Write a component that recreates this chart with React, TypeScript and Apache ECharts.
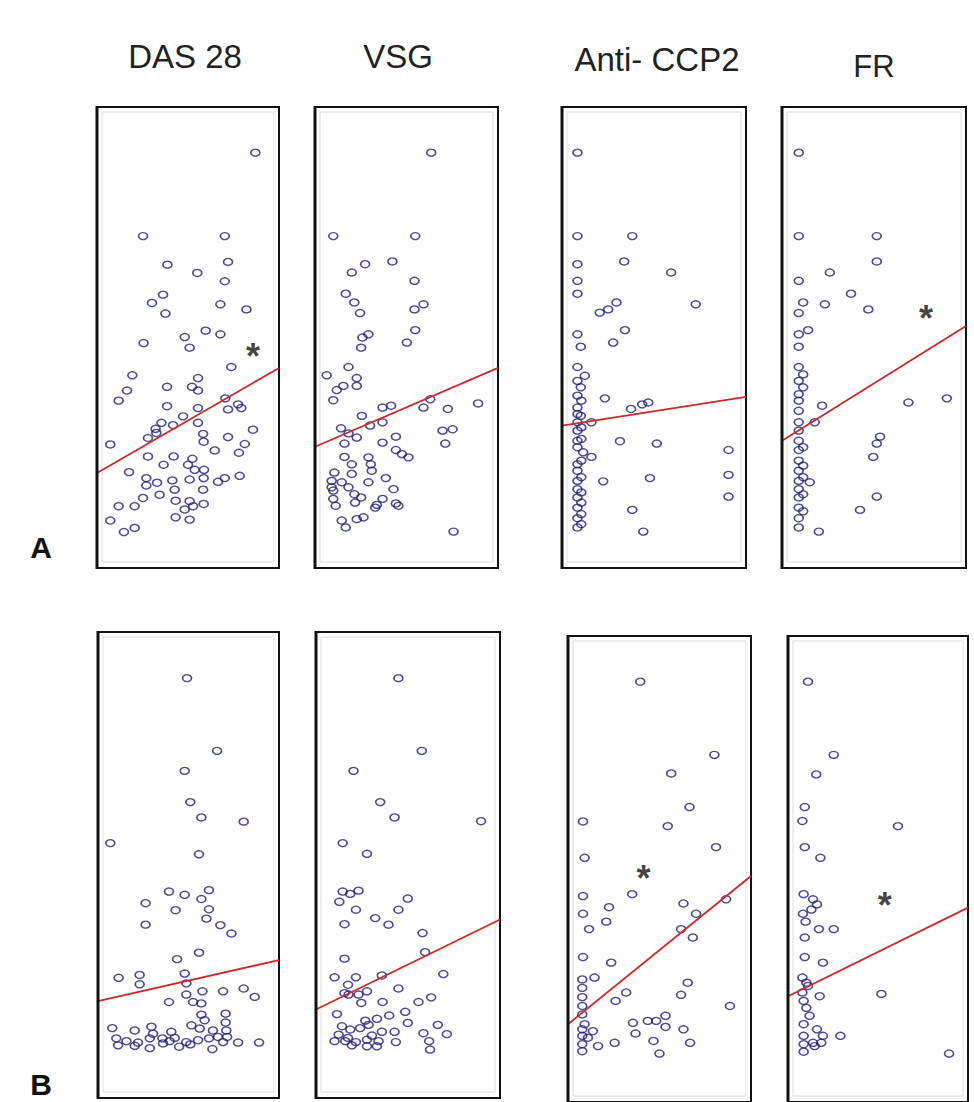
import React, { useEffect, useRef } from "react";
import * as echarts from "echarts";

const titles = ["DAS 28", "VSG", "Anti- CCP2", "FR"];
const rowLabels = ["A", "B"];

// Row A (unitless, 0-100 scale)
const dasA = [
  [87.0, 90.1], [25.3, 72.0], [70.2, 72.0], [38.7, 65.8], [55.1, 64.0], [72.0, 66.4], [70.2, 62.2], [36.3, 59.3],
  [30.2, 57.5], [67.8, 57.2], [82.1, 56.1], [37.6, 55.2], [59.7, 51.5], [48.2, 50.1], [67.8, 50.7], [25.6, 48.8],
  [50.9, 47.8], [73.8, 43.6], [19.4, 41.8], [55.5, 41.2], [16.5, 38.5], [38.5, 39.3], [52.2, 39.3], [55.5, 38.5],
  [11.9, 36.3], [38.5, 35.1], [70.5, 36.8], [55.5, 34.7], [72.0, 34.4], [77.5, 35.5], [79.3, 34.7], [47.3, 32.9],
  [35.4, 31.5], [32.2, 30.2], [41.8, 31.0], [55.5, 31.5], [32.6, 29.3], [28.0, 28.2], [58.3, 29.1], [58.6, 27.4],
  [85.7, 30.0], [7.3, 26.8], [72.0, 28.4], [81.2, 26.9], [78.0, 25.0], [64.7, 25.5], [28.0, 24.2], [42.1, 24.2],
  [36.6, 22.4], [52.4, 23.7], [50.0, 22.4], [53.7, 21.3], [58.8, 21.3], [17.6, 20.8], [27.1, 19.5], [58.6, 19.5],
  [50.9, 19.2], [41.4, 19.0], [33.0, 18.5], [27.1, 17.9], [70.2, 19.5], [78.4, 20.0], [66.5, 18.7], [58.3, 17.0],
  [42.7, 17.0], [34.4, 15.9], [25.3, 15.2], [43.2, 14.6], [50.9, 14.5], [58.6, 13.9], [11.9, 13.4], [20.7, 13.4],
  [52.8, 13.4], [48.2, 12.7], [43.2, 11.0], [50.9, 10.5], [7.3, 10.3], [20.7, 8.7], [14.8, 7.8],
];
const vsgA = [
  [63.5, 90.1], [10.0, 72.0], [54.8, 72.0], [27.4, 65.9], [42.3, 66.5], [20.1, 64.1], [54.4, 62.3], [16.8, 59.5],
  [21.5, 57.6], [24.6, 55.3], [54.4, 56.1], [59.3, 57.2], [54.8, 51.6], [25.9, 50.0], [29.2, 50.7], [25.2, 47.8],
  [50.2, 48.9], [18.3, 43.6], [6.4, 41.8], [22.8, 41.2], [22.8, 39.5], [15.5, 39.5], [11.9, 38.6], [10.0, 36.4],
  [36.9, 34.8], [41.6, 35.2], [59.3, 34.8], [63.0, 36.6], [72.6, 34.5], [89.1, 35.7], [25.6, 33.0], [14.2, 30.3],
  [30.1, 30.9], [36.9, 31.6], [18.3, 29.2], [22.8, 28.3], [69.7, 29.8], [75.2, 30.1], [71.2, 27.0], [16.1, 27.0],
  [36.9, 27.2], [44.2, 28.5], [16.1, 24.1], [29.2, 24.0], [44.2, 25.6], [47.5, 24.7], [51.1, 24.0], [20.1, 22.5],
  [30.5, 22.5], [10.6, 20.7], [20.1, 20.4], [31.0, 21.1], [38.7, 19.5], [9.1, 18.9], [14.6, 18.6], [29.2, 18.6],
  [10.0, 16.8], [42.9, 17.1], [21.5, 16.0], [25.2, 15.3], [36.9, 15.0], [11.3, 13.5], [21.9, 14.2], [32.9, 13.1],
  [44.2, 14.0], [26.5, 11.0], [22.8, 10.6], [14.6, 10.3], [16.8, 8.8], [75.7, 7.9], [33.8, 13.7], [45.6, 13.5],
  [10.0, 15.0], [9.1, 17.5], [18.3, 17.5],
];
const ccpA = [
  [8.4, 90.1], [8.4, 72.0], [38.2, 72.0], [33.8, 66.5], [59.3, 64.1], [8.4, 65.9], [8.4, 62.3], [8.4, 59.5],
  [72.7, 57.2], [20.5, 55.4], [25.1, 56.1], [29.6, 57.6], [34.2, 51.6], [27.8, 48.9], [8.4, 50.7], [10.2, 48.0],
  [8.4, 43.6], [12.4, 41.7], [8.4, 40.6], [10.2, 39.2], [23.3, 36.8], [8.4, 37.4], [37.5, 34.5], [43.6, 35.5],
  [46.9, 35.9], [8.4, 34.8], [10.2, 33.0], [8.4, 31.6], [16.0, 31.6], [8.4, 29.8], [8.4, 27.6], [31.5, 27.5],
  [51.5, 27.0], [90.5, 25.6], [11.5, 25.1], [16.0, 24.1], [8.4, 22.5], [8.4, 21.1], [8.4, 18.9], [22.4, 18.8],
  [47.8, 19.5], [90.5, 20.2], [8.4, 17.1], [8.4, 15.3], [90.5, 15.5], [8.4, 13.1], [38.2, 12.6], [8.4, 10.8],
  [8.4, 8.8], [44.2, 7.9], [10.5, 23.3], [10.5, 19.7], [10.5, 16.4], [10.5, 14.2], [10.5, 11.7], [10.5, 28.0],
  [10.5, 30.5], [10.5, 36.3], [8.4, 33.4], [8.4, 26.2], [10.5, 9.5],
];
const frA = [
  [9.1, 90.1], [9.1, 72.0], [51.5, 72.0], [51.5, 66.5], [26.0, 64.1], [9.1, 62.3], [37.5, 59.5], [11.5, 57.6],
  [23.3, 57.2], [46.9, 56.1], [9.1, 55.3], [14.2, 51.6], [9.1, 50.7], [9.1, 48.0], [9.1, 43.6], [11.5, 42.0],
  [9.1, 40.6], [11.5, 39.2], [9.1, 37.7], [21.8, 35.2], [9.1, 36.3], [68.7, 35.9], [89.6, 36.8], [9.1, 34.1],
  [9.1, 31.6], [17.8, 31.6], [9.1, 29.8], [53.3, 28.5], [51.5, 27.0], [9.1, 27.6], [9.1, 25.6], [49.6, 24.1],
  [9.1, 23.3], [11.5, 22.2], [9.1, 21.1], [15.1, 18.6], [9.1, 18.9], [9.1, 17.1], [51.5, 15.5], [9.1, 15.3],
  [42.4, 12.6], [9.1, 13.1], [9.1, 10.8], [9.1, 8.8], [20.0, 7.9], [11.5, 19.7], [11.5, 12.3], [11.5, 16.0],
  [11.5, 26.2],
];

// Row B
const dasB = [
  [49.2, 90.1], [65.8, 74.5], [47.9, 70.2], [51.0, 63.5], [57.1, 60.2], [80.5, 59.3], [6.8, 54.7], [55.8, 52.3],
  [39.2, 44.3], [47.9, 43.6], [61.3, 44.6], [57.1, 42.7], [26.3, 41.8], [42.9, 40.3], [61.3, 40.5], [59.9, 38.5],
  [26.3, 37.2], [67.6, 37.1], [73.7, 35.3], [55.8, 31.2], [43.7, 29.8], [11.4, 25.8], [23.0, 26.4], [23.0, 24.4],
  [47.9, 26.7], [48.8, 24.6], [80.5, 23.5], [86.6, 21.7], [69.1, 22.9], [57.7, 22.9], [48.8, 22.2], [52.5, 20.6],
  [39.2, 20.6], [57.1, 20.3], [57.1, 17.9], [70.5, 18.1], [58.9, 16.7], [51.6, 15.6], [70.5, 16.2], [7.9, 15.0],
  [20.3, 14.5], [29.5, 15.3], [40.5, 14.2], [63.5, 14.5], [70.9, 14.5], [10.1, 12.8], [15.7, 12.2], [22.1, 11.9],
  [28.6, 12.8], [35.6, 12.8], [42.4, 12.9], [48.8, 12.0], [55.3, 12.4], [61.3, 12.8], [66.3, 13.1], [71.3, 13.1],
  [77.4, 11.9], [89.0, 11.9], [11.1, 11.3], [20.3, 11.2], [28.6, 10.7], [44.8, 11.0], [51.0, 11.5], [63.2, 10.5],
  [35.9, 11.7], [69.1, 12.0], [56.2, 14.9], [30.4, 13.8], [39.6, 12.2],
];
const vsgB = [
  [44.8, 90.1], [57.5, 74.5], [20.4, 70.2], [34.9, 63.5], [42.7, 60.2], [89.7, 59.4], [14.5, 54.7], [27.7, 52.4],
  [14.5, 44.3], [18.6, 43.8], [23.1, 44.5], [12.7, 42.1], [21.7, 40.4], [49.9, 42.8], [44.8, 40.4], [32.2, 38.6],
  [39.4, 37.2], [15.5, 37.3], [57.9, 35.4], [15.5, 29.9], [59.3, 31.3], [10.1, 25.9], [21.7, 25.9], [35.8, 26.3],
  [69.2, 26.6], [17.4, 24.3], [27.7, 22.9], [44.8, 23.5], [15.5, 22.5], [24.6, 20.4], [36.2, 20.6], [55.7, 20.6],
  [62.6, 21.6], [11.4, 18.0], [48.5, 18.5], [26.8, 16.6], [33.1, 17.0], [39.8, 17.7], [49.9, 16.1], [66.2, 15.7],
  [71.1, 13.7], [14.1, 15.4], [18.6, 14.7], [24.0, 15.0], [28.6, 15.7], [35.8, 14.2], [42.7, 14.2], [58.4, 13.9],
  [10.1, 12.2], [15.9, 12.2], [21.7, 12.0], [27.7, 12.5], [34.0, 12.2], [43.4, 12.0], [61.5, 12.2], [62.0, 10.4],
  [12.3, 13.6], [19.5, 11.3], [27.7, 11.1], [33.1, 11.1], [17.4, 12.9], [30.4, 13.4], [17.7, 22.2], [23.1, 22.2],
];
const ccpB = [
  [39.5, 90.2], [80.0, 74.5], [56.4, 70.5], [66.4, 63.3], [54.5, 59.2], [8.2, 60.2], [80.9, 54.7], [9.1, 52.4],
  [35.1, 44.6], [8.2, 44.2], [22.4, 41.8], [8.2, 40.4], [20.9, 38.7], [11.5, 37.1], [63.1, 42.6], [70.0, 40.4],
  [61.8, 37.1], [68.2, 35.3], [86.4, 43.5], [8.2, 31.1], [23.6, 29.9], [7.8, 26.3], [14.5, 26.7], [7.8, 24.5],
  [7.8, 22.5], [7.8, 20.6], [31.8, 23.5], [26.0, 21.7], [65.4, 25.6], [61.8, 23.0], [88.5, 20.6], [9.1, 16.7],
  [13.6, 15.2], [35.5, 17.0], [43.6, 17.4], [48.2, 17.4], [53.3, 18.5], [53.3, 16.1], [36.9, 14.7], [63.1, 15.6],
  [7.8, 14.2], [7.8, 12.4], [7.8, 10.9], [16.4, 12.0], [25.5, 12.7], [46.7, 13.1], [66.7, 12.7], [50.0, 10.4],
  [7.8, 15.6], [10.9, 13.8], [7.8, 18.8],
];
const frB = [
  [11.1, 90.2], [25.4, 74.5], [15.7, 70.3], [9.3, 63.3], [8.0, 60.3], [61.1, 59.2], [9.3, 54.7], [18.0, 52.4],
  [8.7, 44.6], [13.9, 43.5], [16.1, 42.4], [8.3, 40.4], [13.0, 41.3], [9.8, 38.7], [17.2, 37.1], [25.4, 37.1],
  [9.3, 35.3], [9.3, 31.1], [19.4, 29.9], [8.0, 26.7], [10.2, 25.6], [17.6, 22.7], [51.9, 23.2], [8.7, 21.7],
  [10.2, 20.2], [12.0, 18.5], [8.7, 16.7], [16.1, 15.6], [19.4, 14.2], [29.1, 14.2], [8.7, 14.2], [8.7, 12.4],
  [8.7, 10.8], [14.8, 12.0], [89.5, 10.4], [8.0, 23.5], [11.1, 24.9], [13.9, 12.7], [18.5, 12.7],
];

// Regression lines (endpoints at x = 0 and x = 100)
const lineDasA = [[0, 20.6], [100, 43.4]];
const lineVsgA = [[0, 26.3], [100, 43.4]];
const lineCcpA = [[0, 30.9], [100, 37.1]];
const lineFrA = [[0, 27.6], [100, 52.5]];
const lineDasB = [[0, 20.8], [100, 29.6]];
const lineVsgB = [[0, 19.0], [100, 38.3]];
const lineCcpB = [[0, 16.7], [100, 48.5]];
const lineFrB = [[0, 22.7], [100, 41.7]];

// Significance markers
const starDasA = [[85.7, 47.2]];
const starFrA = [[78.2, 55.4]];
const starCcpB = [[41.3, 49.2]];
const starFrB = [[53.7, 43.5]];

const panels = [
  { grid: { left: 97, top: 107, width: 182, height: 461 }, points: dasA, line: lineDasA, star: starDasA },
  { grid: { left: 315, top: 107, width: 183, height: 461 }, points: vsgA, line: lineVsgA, star: [] },
  { grid: { left: 562, top: 107, width: 184, height: 461 }, points: ccpA, line: lineCcpA, star: [] },
  { grid: { left: 782, top: 107, width: 184, height: 461 }, points: frA, line: lineFrA, star: starFrA },
  { grid: { left: 98, top: 632, width: 181, height: 466 }, points: dasB, line: lineDasB, star: [] },
  { grid: { left: 316, top: 632, width: 184, height: 466 }, points: vsgB, line: lineVsgB, star: [] },
  { grid: { left: 568, top: 636, width: 183, height: 466 }, points: ccpB, line: lineCcpB, star: starCcpB },
  { grid: { left: 788, top: 636, width: 180, height: 466 }, points: frB, line: lineFrB, star: starFrB },
];

const titlePos = [
  { x: 185, y: 56, size: 33 },
  { x: 398, y: 56, size: 33 },
  { x: 657, y: 59, size: 33 },
  { x: 874, y: 66, size: 31 },
];
const labelPos = [
  { x: 41, y: 547 },
  { x: 41, y: 1084 },
];

export default function App() {
  const ref = useRef<HTMLDivElement>(null);
  useEffect(() => {
    if (!ref.current) return;
    const chart = echarts.init(ref.current, null, { renderer: "svg" });
    const grids: any[] = [];
    const xAxes: any[] = [];
    const yAxes: any[] = [];
    const series: any[] = [];
    const graphics: any[] = [];
    panels.forEach((p, i) => {
      grids.push({
        ...p.grid,
        show: true,
        borderColor: "#111",
        borderWidth: 2,
        backgroundColor: "#fff",
        containLabel: false,
      });
      const hidden = {
        show: false,
        axisLine: { show: false },
        axisTick: { show: false },
        axisLabel: { show: false },
        splitLine: { show: false },
      };
      xAxes.push({ type: "value", gridIndex: i, min: 0, max: 100, ...hidden });
      yAxes.push({ type: "value", gridIndex: i, min: 0, max: 100, ...hidden });
      series.push({
        type: "scatter",
        xAxisIndex: i,
        yAxisIndex: i,
        data: p.points,
        symbol: "circle",
        symbolSize: [9, 7],
        itemStyle: { color: "rgba(255,255,255,0)", borderColor: "#1e1e7c", borderWidth: 1.5 },
        z: 3,
      });
      series.push({
        type: "line",
        xAxisIndex: i,
        yAxisIndex: i,
        data: p.line,
        symbol: "none",
        lineStyle: { color: "#d02828", width: 1.8 },
        z: 4,
      });
      if (p.star.length) {
        series.push({
          type: "scatter",
          xAxisIndex: i,
          yAxisIndex: i,
          data: p.star,
          symbol: "circle",
          symbolSize: 1,
          itemStyle: { color: "rgba(0,0,0,0)" },
          label: {
            show: true,
            position: "inside",
            formatter: "*",
            fontSize: 36,
            fontWeight: "bold",
            fontFamily: "Liberation Sans, Arial, sans-serif",
            color: "#111",
            offset: [0, 6],
          },
          z: 5,
        });
      }
      const g = p.grid;
      graphics.push({
        type: "rect",
        shape: { x: g.left + 5, y: g.top + 5, width: g.width - 10, height: g.height - 11 },
        style: { fill: "none", stroke: "#dcdcdc", lineWidth: 1 },
        z: 1,
      });
      graphics.push({
        type: "line",
        shape: { x1: g.left, y1: g.top - 1, x2: g.left, y2: g.top + g.height + 1 },
        style: { stroke: "#111", lineWidth: 3 },
        z: 10,
      });
    });
    titles.forEach((t, i) => {
      graphics.push({
        type: "text",
        x: titlePos[i].x,
        y: titlePos[i].y,
        style: {
          text: t,
          fontSize: titlePos[i].size,
          fontFamily: "Liberation Sans, Arial, sans-serif",
          fill: "#222",
          align: "center",
          verticalAlign: "middle",
        },
      });
    });
    rowLabels.forEach((t, i) => {
      graphics.push({
        type: "text",
        x: labelPos[i].x,
        y: labelPos[i].y,
        style: {
          text: t,
          fontSize: 30,
          fontWeight: "bold",
          fontFamily: "Liberation Sans, Arial, sans-serif",
          fill: "#111",
          align: "center",
          verticalAlign: "middle",
        },
      });
    });
    chart.setOption({
      animation: false,
      backgroundColor: "#fff",
      grid: grids,
      xAxis: xAxes,
      yAxis: yAxes,
      series,
      graphic: graphics,
    });
    return () => chart.dispose();
  }, []);
  return (
    <div
      ref={ref}
      style={{ position: "absolute", left: 0, top: 0, width: 974, height: 1102 }}
    />
  );
}
